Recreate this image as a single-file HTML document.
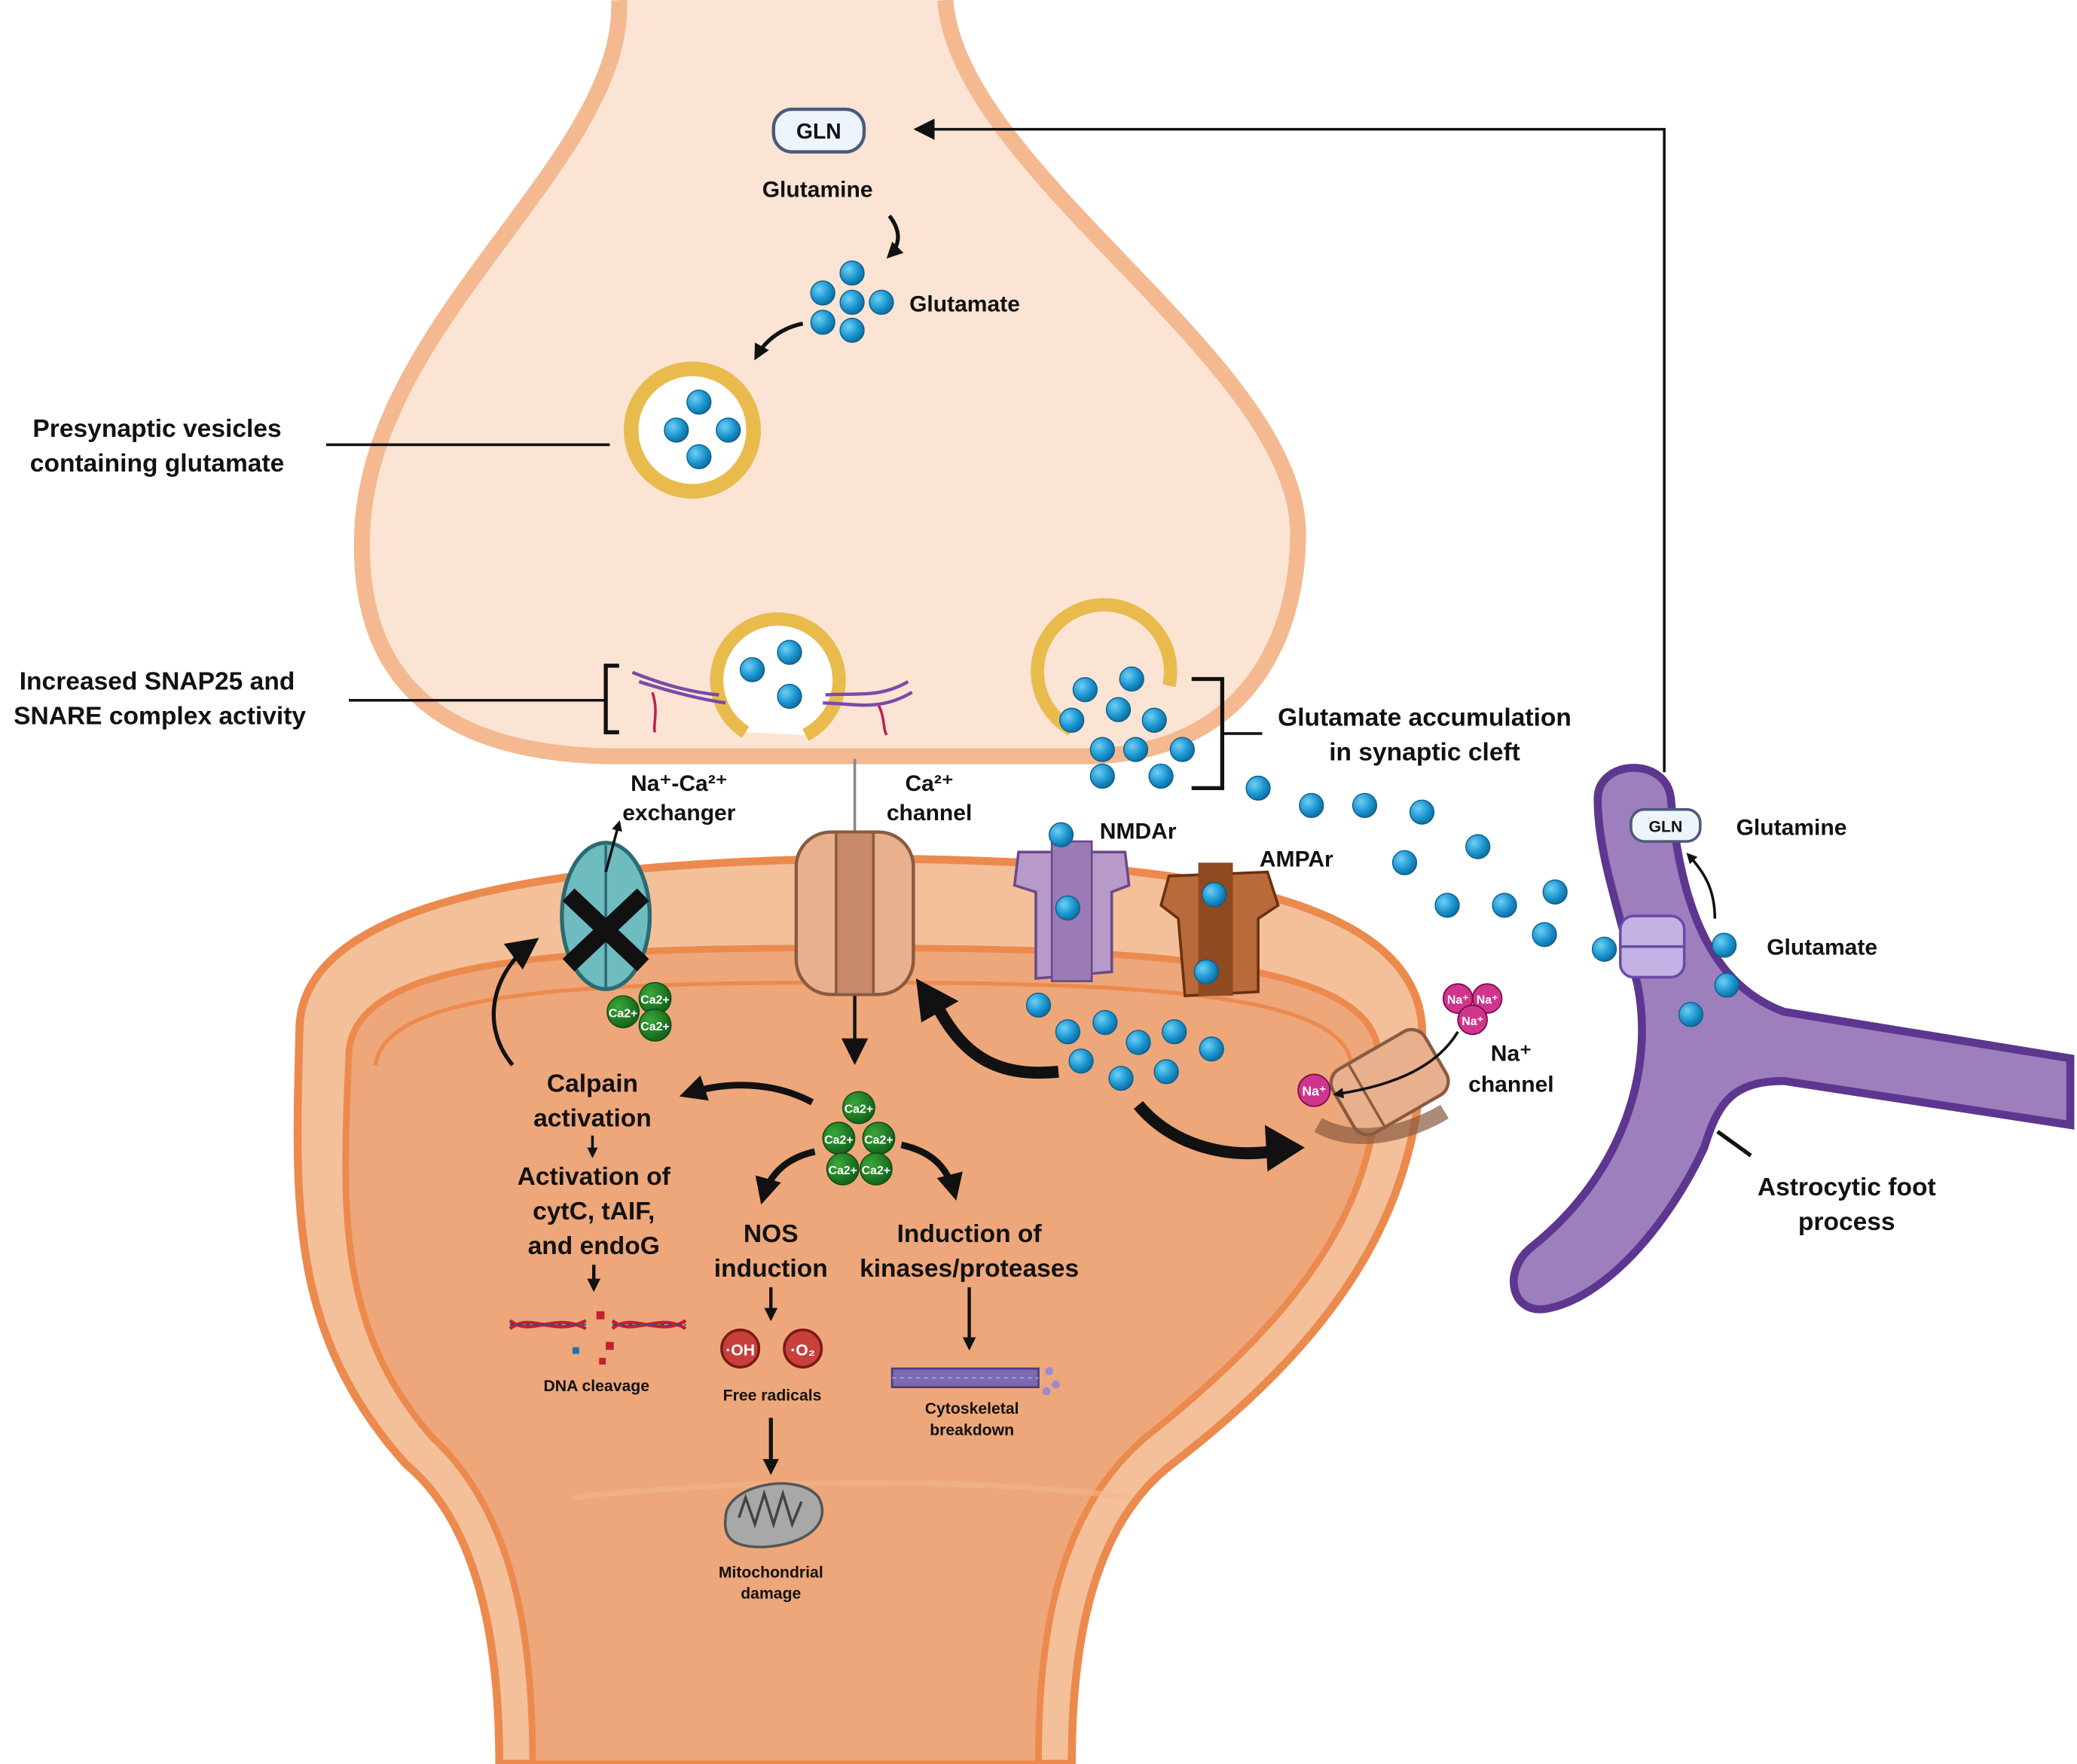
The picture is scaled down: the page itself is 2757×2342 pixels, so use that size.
<!DOCTYPE html>
<html><head><meta charset="utf-8">
<style>html,body{margin:0;padding:0;background:#fff}svg{display:block}
text{font-family:"Liberation Sans",sans-serif;font-weight:bold;fill:#111}</style></head>
<body>
<svg width="2757" height="2342" viewBox="0 0 1560 1325" xmlns="http://www.w3.org/2000/svg">
<defs>
<radialGradient id="gb" cx="35%" cy="35%" r="70%"><stop offset="0" stop-color="#6fd0f5"/><stop offset="0.6" stop-color="#1b95cf"/><stop offset="1" stop-color="#0e6a9c"/></radialGradient>
<radialGradient id="gg" cx="35%" cy="35%" r="70%"><stop offset="0" stop-color="#3aa83a"/><stop offset="1" stop-color="#11601a"/></radialGradient>
<marker id="ah" markerWidth="8" markerHeight="8" refX="6" refY="4" orient="auto" markerUnits="strokeWidth"><path d="M0,0 L8,4 L0,8 Z" fill="#111"/></marker>
<marker id="ah2" markerWidth="4" markerHeight="4" refX="3" refY="2" orient="auto" markerUnits="strokeWidth"><path d="M0,0 L4,2 L0,4 Z" fill="#111"/></marker>
<g id="d"><circle r="9" fill="url(#gb)" stroke="#0c5f8c" stroke-width="0.8"/></g>
<g id="c"><circle r="12" fill="url(#gg)" stroke="#0b4a10" stroke-width="0.8"/></g>
</defs>
<!-- postsynaptic -->
<path d="M225,770 C230,680 400,648 640,645 C880,645 1060,670 1068,770 C1072,900 1010,1000 880,1100 C815,1150 805,1250 805,1325 L375,1325 C375,1250 365,1150 305,1100 C215,1000 222,900 225,770 Z" fill="#f4c09a" stroke="#ec8a4e" stroke-width="6"/>
<path d="M262,790 C268,720 420,712 640,712 C860,712 1030,722 1035,790 C1040,900 980,985 860,1080 C790,1140 780,1240 780,1325 L400,1325 C400,1240 390,1140 325,1080 C250,995 258,900 262,790 Z" fill="#eea77a" stroke="#ec8a4e" stroke-width="5"/>
<path d="M282,800 C290,745 430,738 640,738 C850,738 1010,745 1015,800" fill="none" stroke="#ec8a4e" stroke-width="3"/>
<path d="M430,1125 C560,1110 740,1110 850,1125" fill="none" stroke="#f2b58d" stroke-width="4" opacity="0.6"/>
<!-- presynaptic -->
<path d="M465,0 C470,120 278,240 272,400 C268,510 330,565 455,568 L820,568 C935,565 975,480 975,400 C973,270 720,130 710,0" fill="#fbe4d4" stroke="#f4b990" stroke-width="12"/>
<line x1="642" y1="570" x2="642" y2="790" stroke="#888" stroke-width="2"/>
<!-- astrocyte -->
<path d="M1200,600 C1200,570 1252,568 1255,600 C1262,680 1285,740 1340,760 L1555,795 L1555,845 L1340,812 C1300,812 1290,830 1280,862 C1252,922 1205,975 1162,983 C1135,988 1128,955 1150,937 C1222,880 1242,800 1230,740 C1215,680 1200,640 1200,600 Z" fill="#9d7fbd" stroke="#5d3690" stroke-width="6"/>
<line x1="1290" y1="850" x2="1315" y2="868" stroke="#111" stroke-width="3"/>
<!-- GLN -->
<rect x="581" y="82" width="68" height="32" rx="14" fill="#eef4fb" stroke="#4a5a7a" stroke-width="2.5"/>
<text x="615" y="104" font-size="16" text-anchor="middle">GLN</text>
<rect x="1225" y="608" width="52" height="24" rx="10" fill="#eef4fb" stroke="#4a5a7a" stroke-width="2"/>
<text x="1251" y="625" font-size="12" text-anchor="middle">GLN</text>
<polyline points="1250,580 1250,97 690,97" fill="none" stroke="#111" stroke-width="2" marker-end="url(#ah)"/>
<!-- presyn labels -->
<text x="614" y="148" font-size="17" text-anchor="middle">Glutamine</text>
<text x="683" y="234" font-size="17">Glutamate</text>
<path d="M668,162 C678,175 675,185 668,192" fill="none" stroke="#111" stroke-width="3" marker-end="url(#ah2)"/>
<path d="M603,243 C588,246 575,255 568,268" fill="none" stroke="#111" stroke-width="3" marker-end="url(#ah2)"/>
<g><use href="#d" x="640" y="205"/><use href="#d" x="618" y="220"/><use href="#d" x="640" y="227"/><use href="#d" x="662" y="227"/><use href="#d" x="618" y="242"/><use href="#d" x="640" y="248"/></g>
<circle cx="520" cy="323" r="46" fill="#fff" stroke="#e8bb4c" stroke-width="11"/>
<use href="#d" x="525" y="302"/><use href="#d" x="508" y="323"/><use href="#d" x="547" y="323"/><use href="#d" x="525" y="343"/>
<text x="118" y="328" font-size="19" text-anchor="middle">Presynaptic vesicles</text>
<text x="118" y="354" font-size="19" text-anchor="middle">containing glutamate</text>
<line x1="245" y1="334" x2="458" y2="334" stroke="#111" stroke-width="2"/>
<!-- docked vesicles -->
<path d="M560,550 A46,46 0 1 1 605,552" fill="#fff" stroke="#e8bb4c" stroke-width="10"/>
<use href="#d" x="565" y="503"/><use href="#d" x="593" y="490"/><use href="#d" x="593" y="523"/>
<path d="M475,505 C500,515 520,520 540,522 M480,512 C505,520 525,525 545,528 M620,522 C640,520 660,525 682,512 M618,528 C640,528 660,535 685,520" stroke="#7a4aa8" stroke-width="2.5" fill="none"/>
<path d="M490,520 C495,535 490,545 492,550 M660,530 C665,540 663,548 666,552" stroke="#c02050" stroke-width="2" fill="none"/>
<path d="M805,548 A50,50 0 1 1 878,515" fill="none" stroke="#e8bb4c" stroke-width="10"/>
<polyline points="465,500 455,500 455,550 465,550" fill="none" stroke="#111" stroke-width="3"/>
<line x1="262" y1="526" x2="455" y2="526" stroke="#111" stroke-width="2"/>
<text x="118" y="518" font-size="19" text-anchor="middle">Increased SNAP25 and</text>
<text x="120" y="544" font-size="19" text-anchor="middle">SNARE complex activity</text>
<polyline points="895,510 918,510 918,592 895,592" fill="none" stroke="#111" stroke-width="3"/>
<line x1="918" y1="551" x2="948" y2="551" stroke="#111" stroke-width="2"/>
<text x="1070" y="545" font-size="19" text-anchor="middle">Glutamate accumulation</text>
<text x="1070" y="571" font-size="19" text-anchor="middle">in synaptic cleft</text>
<!-- cleft glutamate -->
<g>
<use href="#d" x="815" y="518"/><use href="#d" x="850" y="510"/><use href="#d" x="840" y="533"/><use href="#d" x="805" y="541"/><use href="#d" x="867" y="541"/><use href="#d" x="828" y="563"/><use href="#d" x="853" y="563"/><use href="#d" x="888" y="563"/><use href="#d" x="828" y="583"/><use href="#d" x="872" y="583"/><use href="#d" x="945" y="592"/><use href="#d" x="985" y="605"/><use href="#d" x="1025" y="605"/><use href="#d" x="1068" y="610"/><use href="#d" x="1110" y="636"/><use href="#d" x="1055" y="648"/><use href="#d" x="1168" y="670"/><use href="#d" x="1087" y="680"/><use href="#d" x="1130" y="680"/><use href="#d" x="1160" y="702"/><use href="#d" x="1205" y="713"/>
</g>
<!-- exchanger -->
<ellipse cx="455" cy="688" rx="33" ry="55" fill="#6fbcc0" stroke="#2b6a70" stroke-width="3"/>
<line x1="455" y1="635" x2="455" y2="742" stroke="#2b6a70" stroke-width="2"/>
<path d="M427,672 L483,725 M483,672 L427,725" stroke="#111" stroke-width="13"/>
<line x1="455" y1="655" x2="465" y2="618" stroke="#111" stroke-width="2" marker-end="url(#ah2)"/>
<use href="#c" x="468" y="760"/><use href="#c" x="492" y="750"/><use href="#c" x="492" y="770"/>
<text x="468" y="764" font-size="9" fill="#fff" text-anchor="middle" style="fill:#fff">Ca2+</text>
<text x="492" y="754" font-size="9" text-anchor="middle" style="fill:#fff">Ca2+</text>
<text x="492" y="774" font-size="9" text-anchor="middle" style="fill:#fff">Ca2+</text>
<text x="510" y="594" font-size="17" text-anchor="middle">Na⁺-Ca²⁺</text>
<text x="510" y="616" font-size="17" text-anchor="middle">exchanger</text>
<!-- Ca channel -->
<rect x="598" y="625" width="88" height="122" rx="26" fill="#e8b08c" stroke="#8a5a40" stroke-width="2.5"/>
<rect x="628" y="625" width="28" height="122" fill="#c98a6a" stroke="#8a5a40" stroke-width="2"/>
<text x="698" y="594" font-size="17" text-anchor="middle">Ca²⁺</text>
<text x="698" y="616" font-size="17" text-anchor="middle">channel</text>
<line x1="642" y1="748" x2="642" y2="795" stroke="#111" stroke-width="2.5" marker-end="url(#ah)"/>
<!-- NMDAr -->
<path d="M765,640 L845,640 L848,665 L835,670 L835,730 L778,735 L778,670 L762,665 Z" fill="#b79ac8" stroke="#6a4a8a" stroke-width="2"/>
<rect x="790" y="632" width="30" height="105" fill="#9b7ab5" stroke="#6a4a8a" stroke-width="1.5"/>
<use href="#d" x="797" y="627"/><use href="#d" x="802" y="682"/>
<text x="826" y="630" font-size="17">NMDAr</text>
<!-- AMPAr -->
<path d="M878,658 L952,655 L960,680 L945,690 L945,745 L890,748 L885,690 L872,680 Z" fill="#b86a3a" stroke="#6a3010" stroke-width="2"/>
<rect x="900" y="648" width="26" height="100" fill="#8e4a20"/>
<use href="#d" x="912" y="672"/><use href="#d" x="906" y="730"/>
<text x="946" y="651" font-size="17">AMPAr</text>
<!-- post glutamate -->
<use href="#d" x="780" y="755"/><use href="#d" x="802" y="775"/><use href="#d" x="830" y="768"/><use href="#d" x="855" y="783"/><use href="#d" x="882" y="775"/><use href="#d" x="812" y="797"/><use href="#d" x="842" y="810"/><use href="#d" x="876" y="805"/><use href="#d" x="910" y="788"/>
<!-- Na channel -->
<g transform="rotate(-30 1045 815)">
<rect x="1005" y="785" width="80" height="55" rx="12" fill="#e8b08c" stroke="#8a5a40" stroke-width="2.5"/>
<line x1="1025" y1="785" x2="1025" y2="840" stroke="#8a5a40" stroke-width="2"/>
</g>
<path d="M990,845 C1020,862 1060,850 1085,835" fill="none" stroke="#8a5a40" stroke-width="12" opacity="0.7"/>
<circle cx="1095" cy="750" r="11" fill="#d0358c" stroke="#7a0a4a"/><circle cx="1117" cy="750" r="11" fill="#d0358c" stroke="#7a0a4a"/><circle cx="1106" cy="766" r="11" fill="#d0358c" stroke="#7a0a4a"/>
<text x="1095" y="754" font-size="9" text-anchor="middle" style="fill:#fff">Na⁺</text>
<text x="1117" y="754" font-size="9" text-anchor="middle" style="fill:#fff">Na⁺</text>
<text x="1106" y="770" font-size="9" text-anchor="middle" style="fill:#fff">Na⁺</text>
<circle cx="987" cy="819" r="12" fill="#d0358c" stroke="#7a0a4a"/>
<text x="987" y="823" font-size="10" text-anchor="middle" style="fill:#fff">Na⁺</text>
<path d="M1095,775 C1080,800 1050,815 1003,822" fill="none" stroke="#111" stroke-width="2" marker-end="url(#ah2)"/>
<text x="1135" y="797" font-size="17" text-anchor="middle">Na⁺</text>
<text x="1135" y="820" font-size="17" text-anchor="middle">channel</text>
<!-- big curved arrows -->
<path d="M795,805 C745,810 720,790 700,748" fill="none" stroke="#111" stroke-width="9"/>
<path d="M688,735 L720,752 L692,768 Z" fill="#111"/>
<path d="M855,830 C880,860 920,870 955,865" fill="none" stroke="#111" stroke-width="9"/>
<path d="M980,862 L950,845 L952,880 Z" fill="#111"/>
<!-- astro transporter -->
<rect x="1217" y="688" width="48" height="46" rx="10" fill="#c3b2e3" stroke="#6a4aa8" stroke-width="2"/>
<line x1="1217" y1="711" x2="1265" y2="711" stroke="#6a4aa8" stroke-width="2"/>
<use href="#d" x="1295" y="710"/><use href="#d" x="1297" y="740"/><use href="#d" x="1270" y="762"/>
<path d="M1288,690 C1288,668 1280,655 1268,642" fill="none" stroke="#111" stroke-width="2" marker-end="url(#ah2)"/>
<text x="1304" y="627" font-size="17">Glutamine</text>
<text x="1327" y="717" font-size="17">Glutamate</text>
<text x="1387" y="898" font-size="19" text-anchor="middle">Astrocytic foot</text>
<text x="1387" y="924" font-size="19" text-anchor="middle">process</text>
<!-- central Ca cluster -->
<use href="#c" x="645" y="832"/><use href="#c" x="630" y="855"/><use href="#c" x="660" y="855"/><use href="#c" x="633" y="878"/><use href="#c" x="658" y="878"/>
<g font-size="9" text-anchor="middle" style="fill:#fff"><text x="645" y="836" style="fill:#fff">Ca2+</text><text x="630" y="859" style="fill:#fff">Ca2+</text><text x="660" y="859" style="fill:#fff">Ca2+</text><text x="633" y="882" style="fill:#fff">Ca2+</text><text x="658" y="882" style="fill:#fff">Ca2+</text></g>
<path d="M610,828 C580,812 545,812 515,822" fill="none" stroke="#111" stroke-width="5" marker-end="url(#ah2)"/>
<path d="M612,865 C590,870 578,882 573,900" fill="none" stroke="#111" stroke-width="5" marker-end="url(#ah2)"/>
<path d="M677,860 C700,865 712,877 717,897" fill="none" stroke="#111" stroke-width="5" marker-end="url(#ah2)"/>
<path d="M385,800 C360,770 370,730 400,708" fill="none" stroke="#111" stroke-width="3" marker-end="url(#ah)"/>
<text x="445" y="820" font-size="19" text-anchor="middle">Calpain</text>
<text x="445" y="846" font-size="19" text-anchor="middle">activation</text>
<line x1="445" y1="853" x2="445" y2="868" stroke="#111" stroke-width="2" marker-end="url(#ah2)"/>
<text x="446" y="890" font-size="19" text-anchor="middle">Activation of</text>
<text x="446" y="916" font-size="19" text-anchor="middle">cytC, tAIF,</text>
<text x="446" y="942" font-size="19" text-anchor="middle">and endoG</text>
<line x1="446" y1="950" x2="446" y2="968" stroke="#111" stroke-width="2.5" marker-end="url(#ah2)"/>
<path d="M383,998 C400,985 415,1005 440,992 M383,992 C400,1005 415,985 440,998 M460,998 C475,985 495,1005 515,992 M460,992 C475,1005 495,985 515,998" stroke="#c02030" stroke-width="2.5" fill="none"/>
<path d="M383,995 L440,995 M460,995 L515,995" stroke="#2050a0" stroke-width="1.5" stroke-dasharray="3,3"/>
<rect x="448" y="985" width="6" height="6" fill="#c02030"/><rect x="455" y="1008" width="6" height="6" fill="#c02030"/><rect x="430" y="1012" width="5" height="5" fill="#2070b0"/><rect x="450" y="1020" width="5" height="5" fill="#c02030"/>
<text x="448" y="1045" font-size="12" text-anchor="middle">DNA cleavage</text>
<text x="579" y="933" font-size="19" text-anchor="middle">NOS</text>
<text x="579" y="959" font-size="19" text-anchor="middle">induction</text>
<line x1="579" y1="967" x2="579" y2="990" stroke="#111" stroke-width="2.5" marker-end="url(#ah2)"/>
<circle cx="556" cy="1013" r="14" fill="#c8403a" stroke="#7a1a15" stroke-width="2"/>
<circle cx="603" cy="1013" r="14" fill="#c8403a" stroke="#7a1a15" stroke-width="2"/>
<text x="556" y="1018" font-size="12" text-anchor="middle" style="fill:#fff">·OH</text>
<text x="603" y="1018" font-size="12" text-anchor="middle" style="fill:#fff">·O₂</text>
<text x="580" y="1052" font-size="12" text-anchor="middle">Free radicals</text>
<line x1="579" y1="1065" x2="579" y2="1105" stroke="#111" stroke-width="3" marker-end="url(#ah2)"/>
<path d="M545,1140 C545,1115 600,1105 615,1125 C625,1145 605,1160 575,1162 C550,1163 543,1155 545,1140 Z" fill="#a8a8a8" stroke="#555" stroke-width="2"/>
<path d="M555,1140 L560,1125 L567,1145 L574,1122 L581,1145 L588,1122 L595,1145 L602,1128" fill="none" stroke="#444" stroke-width="2"/>
<text x="579" y="1185" font-size="12" text-anchor="middle">Mitochondrial</text>
<text x="579" y="1201" font-size="12" text-anchor="middle">damage</text>
<text x="728" y="933" font-size="19" text-anchor="middle">Induction of</text>
<text x="728" y="959" font-size="19" text-anchor="middle">kinases/proteases</text>
<line x1="728" y1="967" x2="728" y2="1012" stroke="#111" stroke-width="2.5" marker-end="url(#ah2)"/>
<rect x="670" y="1028" width="110" height="14" fill="#7a6ab0" stroke="#4a3a80" stroke-width="1.5"/>
<path d="M670,1035 L780,1035" stroke="#b0a0e0" stroke-dasharray="3,3"/>
<circle cx="788" cy="1030" r="3" fill="#9a8ad0"/><circle cx="793" cy="1040" r="3" fill="#9a8ad0"/><circle cx="786" cy="1045" r="3" fill="#9a8ad0"/>
<text x="730" y="1062" font-size="12" text-anchor="middle">Cytoskeletal</text>
<text x="730" y="1078" font-size="12" text-anchor="middle">breakdown</text>
</svg>
</body></html>
